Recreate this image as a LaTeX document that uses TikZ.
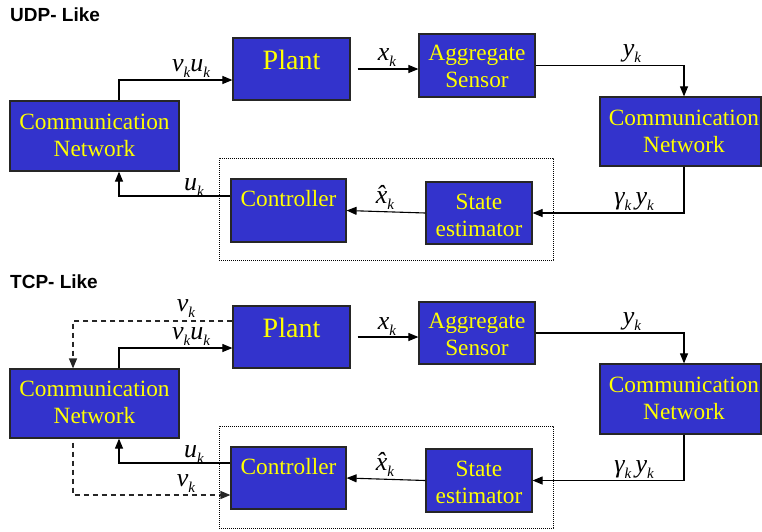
\documentclass[tikz,border=0pt]{standalone}
\usepackage{fontspec}
\setmainfont{Liberation Serif}
\newfontfamily\serf{Liberation Serif}
\newfontfamily\ttlfont{Liberation Sans}
\usetikzlibrary{arrows.meta}
\definecolor{blkfill}{HTML}{3333CC}
\definecolor{ylw}{HTML}{FFFF00}
\newcommand\sbk[1]{\raisebox{-6pt}{\fontsize{15}{15}\selectfont\serf\itshape #1}}
\begin{document}
\begin{tikzpicture}[x=1pt,y=-1pt,
  box/.style={draw=black!85, line width=1.2pt, fill=blkfill, inner sep=0pt},
  btxt/.style={text=ylw, inner sep=0pt, align=center, font=\serf\fontsize{23.3}{27}\selectfont},
  ptxt/.style={text=ylw, inner sep=0pt, font=\serf\fontsize{28}{28}\selectfont},
  conn/.style={line width=1.1pt, -{Triangle[length=10pt,width=8pt]}},
  dashconn/.style={line width=1.2pt, draw=black!85, dash pattern=on 5pt off 4pt, -{Triangle[length=10pt,width=8pt]}},
  grp/.style={draw, line width=0.6pt, dash pattern=on 0.8pt off 1.2pt},
  lab/.style={inner sep=0pt, anchor=base, font=\serf\itshape\fontsize{26}{26}\selectfont},
  ttl/.style={inner sep=0pt, anchor=base west, font=\ttlfont\bfseries\fontsize{19}{19}\selectfont}
]
\useasboundingbox (0,0) rectangle (762,531);

% ================= UDP-Like =================
\node[ttl] (t1) at (10,21) {UDP- Like};
\node[grp, minimum width=334pt, minimum height=102pt] (g1) at (386,209) {};

\node[box, minimum width=117pt, minimum height=62pt] (plant1) at (291.5,69) {};
\node[ptxt] (plant1t) at (291.5,60) {Plant};
\node[box, minimum width=116pt, minimum height=63pt] (agg1) at (477,65.5) {};
\node[btxt] (agg1t) at (477,66.5) {Aggregate\\Sensor};
\node[box, minimum width=161pt, minimum height=69pt] (netR1) at (680.5,131.5) {};
\node[btxt] (netR1t) at (684,131) {Communication\\Network};
\node[box, minimum width=169pt, minimum height=70pt] (netL1) at (94.5,136) {};
\node[btxt] (netL1t) at (94.5,135) {Communication\\Network};
\node[box, minimum width=115pt, minimum height=63pt] (ctrl1) at (288.5,210.5) {};
\node[btxt] (ctrl1t) at (288.5,199) {Controller};
\node[box, minimum width=106pt, minimum height=62pt] (state1) at (479,213) {};
\node[btxt] (state1t) at (479,215) {State\\estimator};

\draw[conn] ([xshift=7pt]plant1.east) -- (agg1.west |- plant1.east);
\draw[conn] (agg1.east) -| ([xshift=3.5pt]netR1.north);
\draw[conn] ([xshift=3.5pt]netR1.south) |- (state1.east);
\draw[conn] (state1.west) -- (ctrl1.east);
\draw[conn] ([yshift=14.5pt]ctrl1.west) -| ([xshift=24.5pt]netL1.south);
\draw[conn] ([xshift=24.5pt]netL1.north) |- ([yshift=-11pt]plant1.west);

\node[lab] (l1a) at (191,71) {ν\sbk{k}u\sbk{k}};
\node[lab] (l1b) at (194,190) {u\sbk{k}};
\node[lab] (l1c) at (387,60) {x\sbk{k}};
\node[lab] (l1d) at (632,56) {y\sbk{k}};
\node[lab] (l1e) at (634,204) {γ\sbk{k}\,y\sbk{k}};
\node[lab] (l1f) at (385,203) {\^{x}\sbk{k}};

% ================= TCP-Like =================
\node[ttl] (t2) at (10,288) {TCP- Like};
\node[grp, minimum width=334pt, minimum height=102pt] (g2) at (386,477) {};

\node[box, minimum width=117pt, minimum height=62pt] (plant2) at (291.5,337) {};
\node[ptxt] (plant2t) at (291.5,328) {Plant};
\node[box, minimum width=116pt, minimum height=62pt] (agg2) at (477,333) {};
\node[btxt] (agg2t) at (477,334) {Aggregate\\Sensor};
\node[box, minimum width=161pt, minimum height=70pt] (netR2) at (680.5,399) {};
\node[btxt] (netR2t) at (684,398.5) {Communication\\Network};
\node[box, minimum width=169pt, minimum height=69pt] (netL2) at (94.5,403.5) {};
\node[btxt] (netL2t) at (94.5,402.5) {Communication\\Network};
\node[box, minimum width=115pt, minimum height=62pt] (ctrl2) at (288.5,478) {};
\node[btxt] (ctrl2t) at (288.5,467) {Controller};
\node[box, minimum width=106pt, minimum height=63pt] (state2) at (479,480.5) {};
\node[btxt] (state2t) at (479,482) {State\\estimator};

\draw[conn] ([xshift=7pt]plant2.east) -- (agg2.west |- plant2.east);
\draw[conn] (agg2.east) -| ([xshift=3.5pt]netR2.north);
\draw[conn] ([xshift=3.5pt]netR2.south) |- (state2.east);
\draw[conn] (state2.west) -- (ctrl2.east);
\draw[conn] ([yshift=15pt]ctrl2.west) -| ([xshift=24.5pt]netL2.south);
\draw[conn] ([xshift=24.5pt]netL2.north) |- ([yshift=-11pt]plant2.west);
\draw[dashconn] ([yshift=16pt]plant2.west) -| ([xshift=-21.5pt]netL2.north);
\draw[dashconn] ([xshift=-21.5pt,yshift=-4pt]netL2.south) |- ([yshift=-17pt]ctrl2.west);

\node[lab] (l2g) at (186,311) {ν\sbk{k}};
\node[lab] (l2a) at (191,339) {ν\sbk{k}u\sbk{k}};
\node[lab] (l2b) at (194,457) {u\sbk{k}};
\node[lab] (l2h) at (186,486) {ν\sbk{k}};
\node[lab] (l2c) at (387,329) {x\sbk{k}};
\node[lab] (l2d) at (632,324) {y\sbk{k}};
\node[lab] (l2e) at (634,472) {γ\sbk{k}\,y\sbk{k}};
\node[lab] (l2f) at (385,470) {\^{x}\sbk{k}};
\end{tikzpicture}
\end{document}
